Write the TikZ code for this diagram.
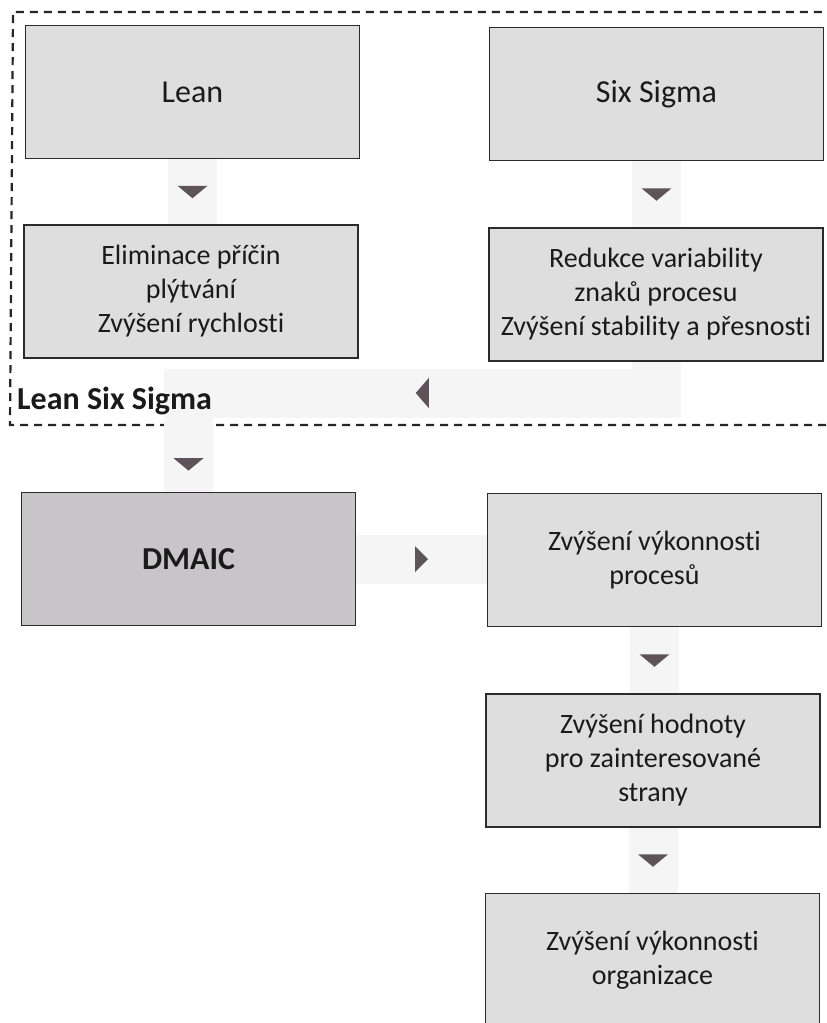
\documentclass[tikz,border=0pt]{standalone}
\usepackage{fontspec}
\setmainfont{Carlito}[Ligatures={NoCommon}]
\definecolor{boxfill}{HTML}{DEDEDE}
\definecolor{dmaicfill}{HTML}{C7C5C7}
\definecolor{bandc}{HTML}{F5F5F5}
\definecolor{tric}{HTML}{5E5358}
\definecolor{boxline}{HTML}{2B2B2B}
\definecolor{textc}{HTML}{1A1A1A}
\begin{document}
\begin{tikzpicture}[x=1pt,y=-1pt,
  box/.style={draw=boxline, line width=1.4pt, fill=boxfill,
    minimum width=334pt, minimum height=133pt, inner sep=0pt,
    align=center, text=textc, font=\fontsize{28}{34}\selectfont},
  bigbox/.style={box, font=\fontsize{32}{38}\selectfont},
  band/.style={draw=bandc, line width=49pt, line join=miter},
  frame/.style={draw=black!85, line width=2.2pt, dash pattern=on 8pt off 6pt},
  tridown/.pic={\fill[tric] (-15,-6) -- (15,-6) -- (0,6.5) -- cycle;},
  trileft/.pic={\fill[tric] (6.5,-15) -- (6.5,15) -- (-6.5,0) -- cycle;},
  triright/.pic={\fill[tric] (-6.5,-13) -- (-6.5,13) -- (6.5,0) -- cycle;}]
\clip (0,0) rectangle (827,1023);
\fill[white] (0,0) rectangle (827,1023);

% dashed frame of the Lean Six Sigma group
\draw[frame] (840,425) -- (10,425) -- (13,12) -- (840,12);

% boxes
\node[bigbox] (lean)  at (192.5,92)  {Lean};
\node[bigbox] (six)   at (656.5,94)  {Six Sigma};
\node[box]    (elim)  at (191,291.5) {Eliminace příčin\\plýtvání\\Zvýšení rychlosti};
\node[box]    (redu)  at (656,294.5) {Redukce variability\\znaků procesu\\Zvýšení stability a přesnosti};
\node[box, fill=dmaicfill, font=\fontsize{32}{38}\selectfont\bfseries]
              (dmaic) at (188.5,559) {DMAIC};
\node[box]    (proc)  at (654.5,560) {Zvýšení výkonnosti\\procesů};
\node[box]    (hodn)  at (653,760.5) {Zvýšení hodnoty\\pro zainteresované\\strany};
\node[box]    (org)   at (652.5,960) {Zvýšení výkonnosti\\organizace};

% connector bands
\coordinate (bend) at (0,393);
\draw[band] (lean.south) -- (lean.south |- elim.north)
  coordinate[midway] (a1);
\draw[band] (six.south) -- (six.south |- redu.north)
  coordinate[midway] (a2);
\draw[band] (redu.south) |- (bend -| dmaic.north) -- (dmaic.north);
\path (redu.south |- bend) -- (bend -| dmaic.north) coordinate[midway] (a3);
\path (bend -| dmaic.north) -- (dmaic.north) coordinate[pos=0.72] (a4);
\draw[band] (dmaic.east) -- (dmaic.east -| proc.west)
  coordinate[midway] (a5);
\draw[band] (proc.south) -- (proc.south |- hodn.north)
  coordinate[midway] (a6);
\draw[band] (hodn.south) -- (hodn.south |- org.north)
  coordinate[midway] (a7);

% arrow heads
\pic at (a1) {tridown};
\pic at (a2) {tridown};
\pic at (a3) {trileft};
\pic at (a4) {tridown};
\pic at (a5) {triright};
\pic at (a6) {tridown};
\pic at (a7) {tridown};

% group label
\node[anchor=base west, inner sep=0pt, text=textc,
  font=\fontsize{32}{36}\selectfont\bfseries] (lss) at (17,409) {Lean Six Sigma};
\end{tikzpicture}
\end{document}
